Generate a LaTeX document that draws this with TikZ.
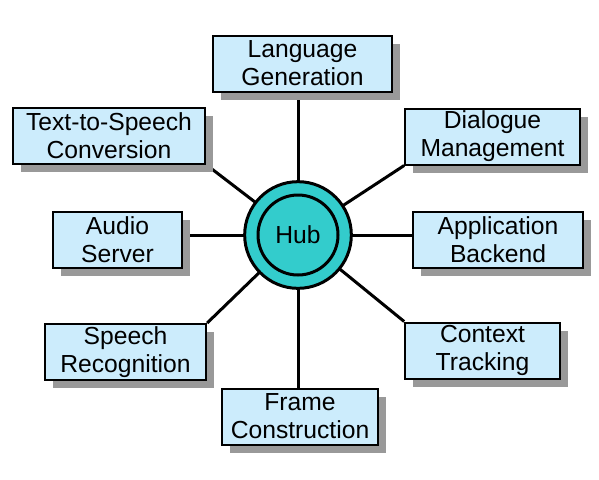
\documentclass[tikz,border=0pt]{standalone}
\usepackage{fontspec}
\setmainfont{Liberation Sans}
\usetikzlibrary{shadows,backgrounds}
\definecolor{boxblue}{RGB}{204,236,252}
\definecolor{hubcyan}{RGB}{51,204,204}
\definecolor{shadowgray}{RGB}{153,153,153}

\begin{document}
\begin{tikzpicture}[x=0.75pt,y=-0.75pt,
    module/.style ={rectangle, draw, line width=1.5pt, fill=boxblue, align=center,
      minimum height=42pt, inner sep=0pt, text=black,
      font=\fontsize{18.5}{21}\selectfont,
      drop shadow={shadow xshift=6pt, shadow yshift=-6pt, fill=shadowgray, opacity=1}},
    link/.style ={line width=2.25pt}]
   \useasboundingbox (0,0) rectangle (599,479);

   \node[module,minimum width=134pt] (lang)    at (302.5,63.5) {Language\\Generation};
   \node[module,minimum width=144pt] (tts)     at (109,135.5)  {Text{-}to{-}Speech\\Conversion};
   \node[module,minimum width=131pt] (dialog)  at (492.5,136.5) {Dialogue\\Management};
   \node[module,minimum width=97pt]  (audio)   at (117.5,240)  {Audio\\Server};
   \node[module,minimum width=128pt] (backend) at (498,239.5)  {Application\\Backend};
   \node[module,minimum width=121pt] (speech)  at (125.5,352)  {Speech\\Recognition};
   \node[module,minimum width=116pt] (context) at (482.5,350.5) {Context\\Tracking};
   \node[module,minimum width=117pt] (frame)   at (300,416.5)  {Frame\\Construction};

   \node[circle, draw, line width=2.25pt, fill=hubcyan, minimum size=80pt] (hub) at (298,235) {};
   \node[circle, draw, line width=2.25pt, fill=hubcyan, minimum size=60pt,
     font=\fontsize{18.5}{21}\selectfont] (core) at (hub) {Hub};

   \begin{pgfonlayer}{background}
   \draw[link] (hub.center) -- (hub.center |- lang.south);
   \draw[link] (hub.center) -- (hub.center |- frame.north);
   \draw[link] (hub.center) -- (tts.south east);
   \draw[link] (hub.center) -- (dialog.south west);
   \draw[link] (hub.center) -- (speech.north east);
   \draw[link] (hub.center) -- (context.north west);
   \draw[link] (hub.center) -- (hub.center -| audio.east);
   \draw[link] (hub.center) -- (hub.center -| backend.west);
   \end{pgfonlayer}
 \end{tikzpicture}
\end{document}
